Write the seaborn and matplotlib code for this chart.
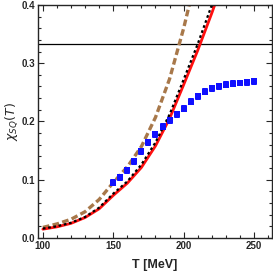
import numpy as np
import pandas as pd
import matplotlib
matplotlib.use("Agg")
import matplotlib.pyplot as plt
import seaborn as sns
from matplotlib.ticker import MultipleLocator

# --------------------------
# Data
# --------------------------
T_red = [100, 110, 120, 130, 140, 150, 160, 170, 180, 190, 200, 210, 220, 225]
chi_red = [0.015, 0.019, 0.025, 0.035, 0.050, 0.073, 0.094, 0.121, 0.158, 0.205, 0.263, 0.322, 0.386, 0.42]

T_black = [100, 110, 120, 130, 140, 150, 160, 170, 180, 190, 200, 210, 220]
chi_black = [0.016, 0.020, 0.026, 0.036, 0.052, 0.076, 0.097, 0.126, 0.164, 0.212, 0.272, 0.333, 0.400]

T_brown = [100, 110, 120, 130, 140, 150, 160, 170, 180, 190, 200, 206]
chi_brown = [0.018, 0.024, 0.032, 0.045, 0.066, 0.095, 0.122, 0.157, 0.207, 0.273, 0.360, 0.42]

T_lat = [150, 155, 160, 165, 170, 175, 180, 185, 190, 195, 200,
         205, 210, 215, 220, 225, 230, 235, 240, 245, 250]
chi_lat = [0.095, 0.104, 0.116, 0.132, 0.149, 0.164, 0.178, 0.191, 0.202, 0.212, 0.222,
           0.234, 0.243, 0.251, 0.257, 0.260, 0.263, 0.265, 0.266, 0.267, 0.269]
err_lat = [0.006] * len(T_lat)

sb_limit = 1 / 3

# --------------------------
# Plot
# --------------------------
sns.set_style("ticks")
plt.rcParams["font.family"] = ["Liberation Sans", "DejaVu Sans"]
plt.rcParams["mathtext.fontset"] = "dejavusans"

fig = plt.figure(figsize=(2.73, 2.76), dpi=100)
ax = fig.add_axes([0.139, 0.138, 0.856, 0.844])

ax.axhline(sb_limit, color="black", lw=0.9)

sns.lineplot(x=T_brown, y=chi_brown, ax=ax, color="#a8784a", lw=2.4,
             linestyle=(0, (2.0, 1.0)), sort=False)
sns.lineplot(x=T_red, y=chi_red, ax=ax, color="#ff1010", lw=2.0, sort=False)
sns.lineplot(x=T_black, y=chi_black, ax=ax, color="black", lw=1.6,
             linestyle=(0, (1.2, 1.2)), sort=False)

ax.errorbar(T_lat, chi_lat, yerr=err_lat, fmt="s", color="#1010ff",
            ms=4.5, mew=0, elinewidth=4.0, capsize=0, zorder=5)

ax.set_xlim(96.5, 262.5)
ax.set_ylim(0, 0.4)
ax.xaxis.set_major_locator(MultipleLocator(50))
ax.xaxis.set_minor_locator(MultipleLocator(10))
ax.yaxis.set_major_locator(MultipleLocator(0.1))
ax.yaxis.set_minor_locator(MultipleLocator(0.02))
ax.tick_params(which="both", direction="in", top=True, right=True, width=0.8)
ax.tick_params(which="major", length=4, labelsize=7, pad=2)
ax.tick_params(which="minor", length=2)
ax.set_yticks([0.0, 0.1, 0.2, 0.3, 0.4])
ax.set_yticklabels(["0.0", "0.1", "0.2", "0.3", "0.4"], fontweight="bold")
ax.set_xticks([100, 150, 200, 250])
ax.set_xticklabels(["100", "150", "200", "250"], fontweight="bold")

for sp in ax.spines.values():
    sp.set_linewidth(1.0)

ax.set_xlabel("T [MeV]", fontsize=9, fontweight="bold", labelpad=6)
ax.set_ylabel(r"$\chi_{SQ}(T)$", fontsize=9, labelpad=1)

fig.savefig("out.png", dpi=100)
